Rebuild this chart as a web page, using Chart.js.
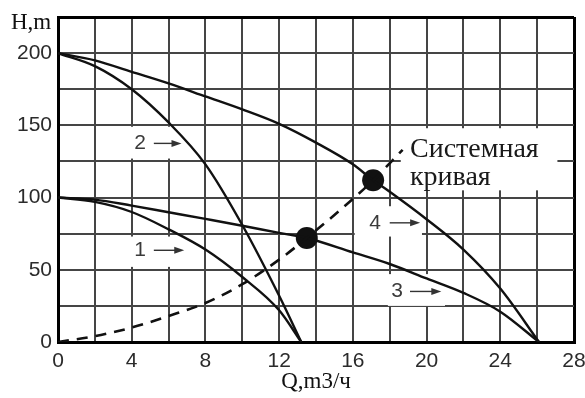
<!DOCTYPE html>
<html>
<head>
<meta charset="utf-8">
<script src="https://cdn.jsdelivr.net/npm/chart.js@4.4.1/dist/chart.umd.min.js"></script>
<style>
  html, body { margin: 0; padding: 0; background: #fff; }
  #wrap { width: 585px; height: 398px; }
</style>
</head>
<body>
<div id="wrap"><canvas id="c" width="585" height="398"></canvas></div>
<script>
// ---- data ----
const xTicks = [0, 4, 8, 12, 16, 20, 24, 28];
const yTicks = [0, 50, 100, 150, 200];

const curve1Q = [0, 2, 4, 6, 8, 10, 12, 13.2];
const curve1H = [100, 97, 90, 78, 64, 45, 22, 0];

const curve2Q = [0, 2, 4, 6, 8, 10, 12, 13.2];
const curve2H = [200, 191, 175, 152, 123, 81, 32, 0];

const curve3Q = [0, 2, 4, 6, 8, 10, 12, 13.5, 16, 18, 20, 22, 24, 26.1];
const curve3H = [100, 98.6, 94.4, 89.8, 85.2, 80.5, 75.5, 72, 62, 54, 44, 34, 21, 0];

const curve4Q = [0, 2, 4, 6, 8, 10, 12, 14, 16, 17.1, 18, 20, 22, 24, 26.1];
const curve4H = [200, 195, 187, 179, 170, 161, 151, 138, 123, 112, 104, 85, 64, 37, 0];

const systemQ = [0, 2, 4, 6, 8, 10, 12, 13.5, 16, 17.1, 18.7];
const systemH = [0, 4, 10, 18, 27, 40, 57, 72, 99, 112, 133];

const opPointQ = [13.5, 17.1];
const opPointH = [72, 112];

const curveNames = ['1', '2', '3', '4'];
const systemName = ['Системная', 'кривая'];
const xTitle = 'Q,m3/ч';
const yTitle = 'H,m';

// ---- helpers ----
function pts(qs, hs) { return qs.map((q, i) => ({ x: q, y: hs[i] })); }

const lineStyle = {
  showLine: true, borderColor: '#111', borderWidth: 2.4, pointRadius: 0,
  cubicInterpolationMode: 'monotone', fill: false
};

// annotation placement (data units) - layout only
const labelPlaces = [
  { text: curveNames[0], q: 4.45, h: 63.5, a0: 5.2, a1: 6.85, box: [3.3, 6.9, 52, 73] },
  { text: curveNames[1], q: 4.45, h: 137.5, a0: 5.2, a1: 6.7, box: [3.3, 6.9, 127, 149] },
  { text: curveNames[2], q: 18.4, h: 35, a0: 19.1, a1: 20.8, box: [17.9, 21.0, 25, 47] },
  { text: curveNames[3], q: 17.2, h: 82.5, a0: 18.0, a1: 19.65, box: [16.1, 19.75, 73, 94] }
];
const systemPlace = { q: 19.1, h1: 128.3, h2: 108.8, box: [18.6, 27.1, 105, 148] };

const bgPlugin = {
  id: 'bg',
  beforeDraw(chart) {
    const ctx = chart.ctx;
    ctx.save(); ctx.fillStyle = '#fff'; ctx.fillRect(0, 0, chart.width, chart.height); ctx.restore();
  }
};

const annoPlugin = {
  id: 'anno',
  beforeDatasetsDraw(chart) {
    const { ctx, scales: { x, y } } = chart;
    ctx.save();
    ctx.fillStyle = '#fff';
    const boxes = labelPlaces.map(l => l.box).concat([systemPlace.box]);
    boxes.forEach(b => {
      const x0 = x.getPixelForValue(b[0]), x1 = x.getPixelForValue(b[1]);
      const y0 = y.getPixelForValue(b[3]), y1 = y.getPixelForValue(b[2]);
      ctx.fillRect(x0, y0, x1 - x0, y1 - y0);
    });
    ctx.restore();
  },
  afterDatasetsDraw(chart) {
    const { ctx, scales: { x, y } } = chart;
    ctx.save();
    labelPlaces.forEach(l => {
      const px = x.getPixelForValue(l.q), py = y.getPixelForValue(l.h);
      ctx.fillStyle = '#3a3a3a';
      ctx.font = '21px "Liberation Sans", Arial, sans-serif';
      ctx.textAlign = 'center'; ctx.textBaseline = 'middle';
      ctx.fillText(l.text, px, py);
      const ax0 = x.getPixelForValue(l.a0), ax1 = x.getPixelForValue(l.a1);
      ctx.strokeStyle = '#333'; ctx.lineWidth = 1.4;
      ctx.beginPath(); ctx.moveTo(ax0, py); ctx.lineTo(ax1 - 6, py); ctx.stroke();
      ctx.beginPath(); ctx.moveTo(ax1, py); ctx.lineTo(ax1 - 10, py - 3.5); ctx.lineTo(ax1 - 10, py + 3.5); ctx.closePath();
      ctx.fillStyle = '#333'; ctx.fill();
    });
    ctx.fillStyle = '#1a1a1a';
    ctx.font = '28px "Liberation Serif", "Times New Roman", serif';
    ctx.textAlign = 'left'; ctx.textBaseline = 'alphabetic';
    const sx = x.getPixelForValue(systemPlace.q);
    ctx.fillText(systemName[0], sx, y.getPixelForValue(systemPlace.h1));
    ctx.fillText(systemName[1], sx, y.getPixelForValue(systemPlace.h2));
    // y axis title
    ctx.font = '23px "Liberation Serif", "Times New Roman", serif';
    ctx.fillStyle = '#111';
    ctx.fillText(yTitle, 11, 29);
    ctx.restore();
  }
};

const edge = (v, lo, hi) => v === lo || v === hi;

new Chart(document.getElementById('c'), {
  type: 'scatter',
  data: {
    datasets: [
      Object.assign({ label: 'system', data: pts(systemQ, systemH) }, lineStyle, { borderDash: [11, 8], borderWidth: 2.6 }),
      Object.assign({ label: '1', data: pts(curve1Q, curve1H) }, lineStyle),
      Object.assign({ label: '2', data: pts(curve2Q, curve2H) }, lineStyle),
      Object.assign({ label: '3', data: pts(curve3Q, curve3H) }, lineStyle),
      Object.assign({ label: '4', data: pts(curve4Q, curve4H) }, lineStyle),
      { label: 'points', data: pts(opPointQ, opPointH), showLine: false, pointRadius: 11, pointHoverRadius: 11,
        pointBackgroundColor: '#111', pointBorderColor: '#111', pointBorderWidth: 0 }
    ]
  },
  options: {
    responsive: false,
    animation: false,
    devicePixelRatio: 1,
    layout: { padding: { top: 17, right: 10, left: 0, bottom: 0 } },
    plugins: { legend: { display: false }, tooltip: { enabled: false } },
    scales: {
      x: {
        type: 'linear', min: 0, max: 28,
        afterFit(s) { s.height = 56; s.paddingLeft = 0; s.paddingRight = 0; },
        afterBuildTicks(s) { s.ticks = []; for (let v = 0; v <= 28; v += 2) s.ticks.push({ value: v }); },
        ticks: {
          autoSkip: false, maxRotation: 0, padding: 7, color: '#2b2b2b',
          font: { family: '"Liberation Sans", Arial, sans-serif', size: 21 },
          callback: v => xTicks.includes(v) ? String(v) : ''
        },
        grid: {
          drawTicks: false,
          color: c => edge(c.tick && c.tick.value, 0, 28) ? '#000' : '#454545',
          lineWidth: c => edge(c.tick && c.tick.value, 0, 28) ? 3 : 2
        },
        border: { display: true, color: '#000', width: 3 },
        title: { display: true, text: xTitle, color: '#111', padding: { top: 0, bottom: 2 },
          font: { family: '"Liberation Serif", "Times New Roman", serif', size: 23 } }
      },
      y: {
        type: 'linear', min: 0, max: 225,
        afterFit(s) { s.width = 58; s.paddingTop = 0; s.paddingBottom = 0; },
        afterBuildTicks(s) { s.ticks = []; for (let v = 0; v <= 225; v += 25) s.ticks.push({ value: v }); },
        ticks: {
          autoSkip: false, padding: 6, color: '#2b2b2b',
          font: { family: '"Liberation Sans", Arial, sans-serif', size: 21 },
          callback: v => yTicks.includes(v) ? String(v) : ''
        },
        grid: {
          drawTicks: false,
          color: c => edge(c.tick && c.tick.value, 0, 225) ? '#000' : '#454545',
          lineWidth: c => edge(c.tick && c.tick.value, 0, 225) ? 3 : 2
        },
        border: { display: true, color: '#000', width: 3 }
      }
    }
  },
  plugins: [bgPlugin, annoPlugin]
});
</script>
</body>
</html>
